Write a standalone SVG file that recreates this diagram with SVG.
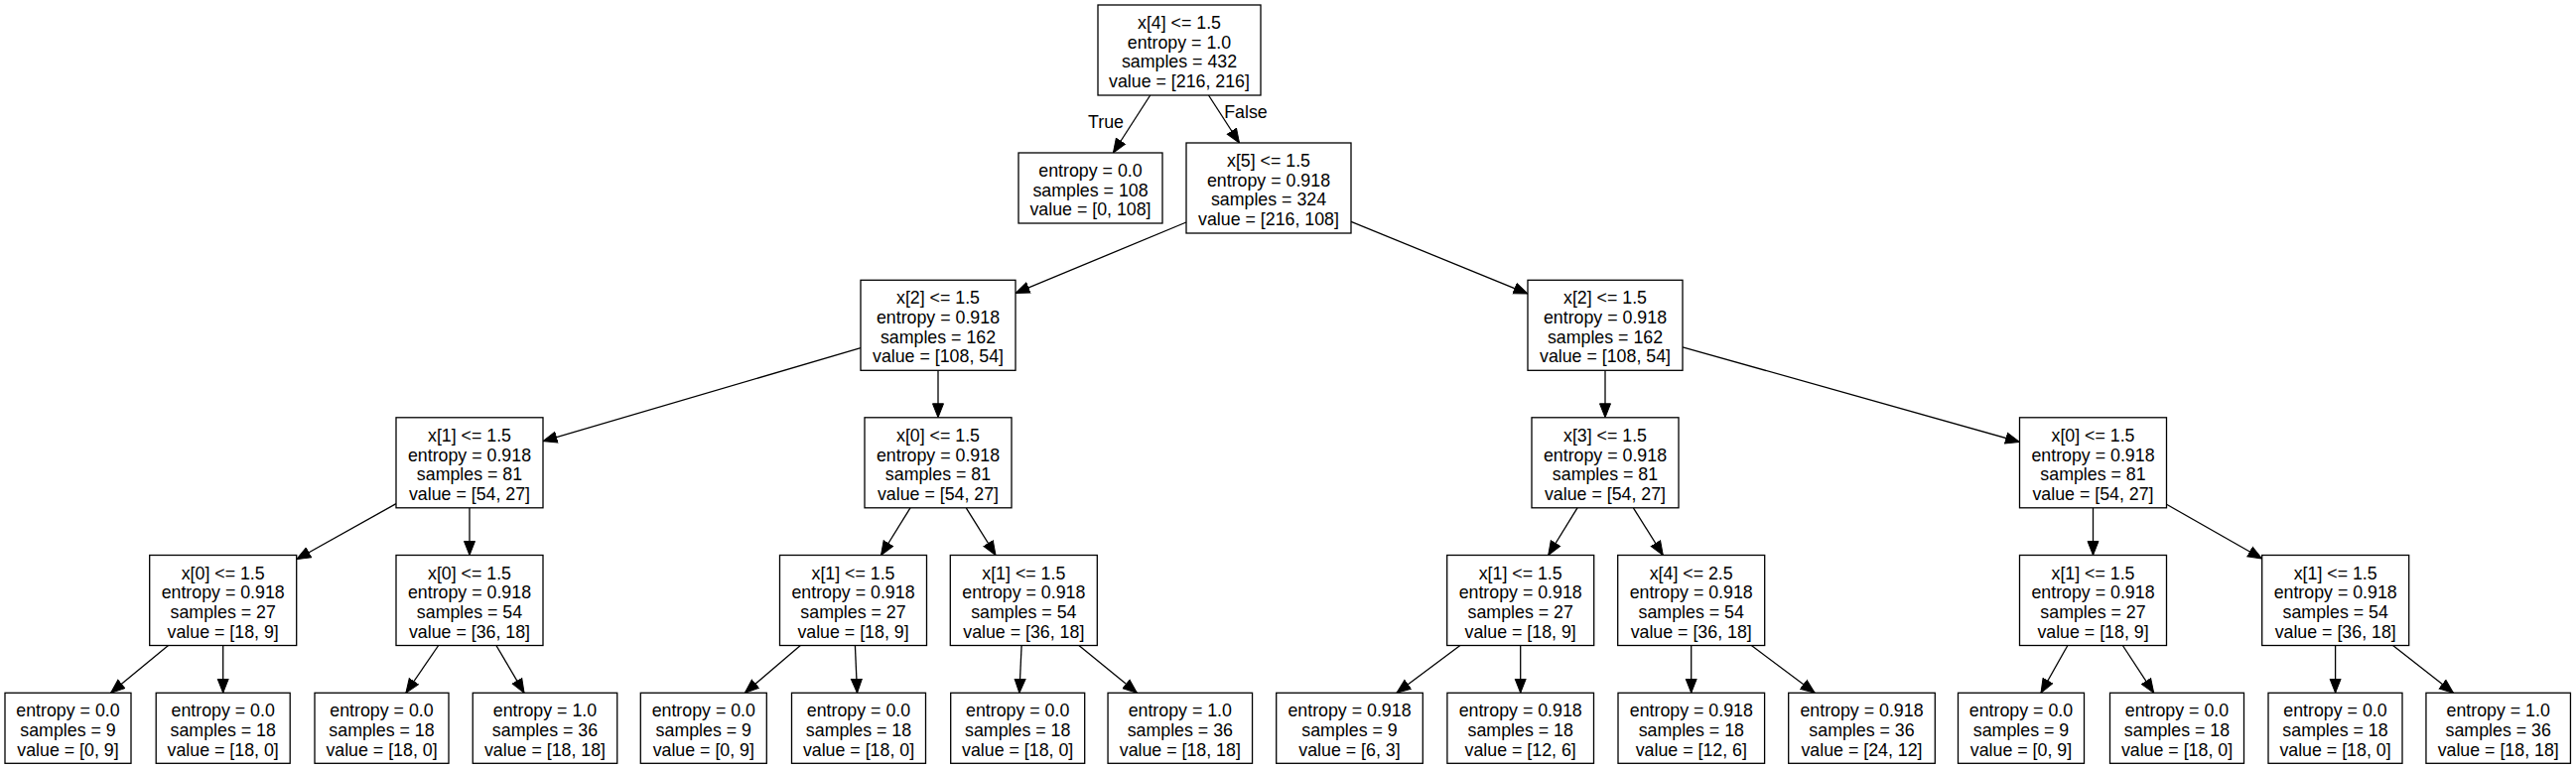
<svg xmlns="http://www.w3.org/2000/svg" width="2595" height="775" viewBox="0 0 2595 775">
<style>
rect.n{fill:#fff;stroke:#000;stroke-width:1.3}
text{font-family:"Liberation Sans",Arial,Helvetica,sans-serif;font-size:17.8px;fill:#000;text-anchor:middle}
.e line{stroke:#000;stroke-width:1.3;marker-end:url(#ah)}
</style>
<defs>
<marker id="ah" markerUnits="userSpaceOnUse" markerWidth="16" markerHeight="14" viewBox="0 -7 15 14" refX="14" refY="0" orient="auto">
<path d="M0,-5.5 L14,0 L0,5.5 z" fill="#000" stroke="#000" stroke-width="1"/>
</marker>
</defs>
<rect width="2595" height="775" fill="#fff"/>
<g class="e" id="edges">
<line x1="1158.7" y1="96" x2="1121.4" y2="154"/>
<line x1="1217.5" y1="96" x2="1248.5" y2="144"/>
<line x1="1195" y1="224" x2="1023" y2="295.4"/>
<line x1="1361" y1="223.4" x2="1539" y2="296"/>
<line x1="867" y1="350.7" x2="547" y2="444.6"/>
<line x1="945" y1="373.3" x2="945" y2="420.8"/>
<line x1="1617" y1="373.3" x2="1617" y2="420.8"/>
<line x1="1695" y1="349.8" x2="2034.5" y2="445.4"/>
<line x1="399" y1="507.6" x2="298.7" y2="563.7"/>
<line x1="473" y1="511.8" x2="473" y2="559.5"/>
<line x1="917" y1="511.8" x2="887.5" y2="559.5"/>
<line x1="973.3" y1="511.8" x2="1003" y2="559.5"/>
<line x1="1589" y1="511.8" x2="1559.7" y2="559.5"/>
<line x1="1645.4" y1="511.8" x2="1675.3" y2="559.5"/>
<line x1="2108.5" y1="511.8" x2="2108.5" y2="559.5"/>
<line x1="2182.5" y1="508.3" x2="2278.7" y2="563"/>
<line x1="169.5" y1="650.5" x2="111.55" y2="698.3"/>
<line x1="224.7" y1="650.5" x2="224.7" y2="698.3"/>
<line x1="441.7" y1="650.5" x2="408.9" y2="698.3"/>
<line x1="499.9" y1="650.5" x2="528.05" y2="698.3"/>
<line x1="806.3" y1="650.5" x2="750.3" y2="698.3"/>
<line x1="861.4" y1="650.5" x2="863.5" y2="698.3"/>
<line x1="1029.1" y1="650.5" x2="1026.9" y2="698.3"/>
<line x1="1086.9" y1="650.5" x2="1145.4" y2="698.3"/>
<line x1="1470.9" y1="650.5" x2="1407" y2="698.3"/>
<line x1="1531.7" y1="650.5" x2="1531.7" y2="698.3"/>
<line x1="1703.7" y1="650.5" x2="1703.7" y2="698.3"/>
<line x1="1764.4" y1="650.5" x2="1828.15" y2="698.3"/>
<line x1="2082.9" y1="650.5" x2="2056" y2="698.3"/>
<line x1="2138.35" y1="650.5" x2="2169.7" y2="698.3"/>
<line x1="2352.6" y1="650.5" x2="2352.6" y2="698.3"/>
<line x1="2410.6" y1="650.5" x2="2471.5" y2="698.3"/>
<text x="1114" y="129">True</text>
<text x="1255" y="119">False</text>
</g>
<g id="n0"><rect class="n" x="1106" y="5" width="164" height="91"/><text x="1188" y="29.05"><tspan x="1188">x[4] &lt;= 1.5</tspan><tspan x="1188" dy="19.7">entropy = 1.0</tspan><tspan x="1188" dy="19.7">samples = 432</tspan><tspan x="1188" dy="19.7">value = [216, 216]</tspan></text></g>
<g id="n1"><rect class="n" x="1026" y="154" width="145" height="71"/><text x="1098.5" y="177.9"><tspan x="1098.5">entropy = 0.0</tspan><tspan x="1098.5" dy="19.7">samples = 108</tspan><tspan x="1098.5" dy="19.7">value = [0, 108]</tspan></text></g>
<g id="n2"><rect class="n" x="1195" y="144" width="166" height="91"/><text x="1278" y="168.05"><tspan x="1278">x[5] &lt;= 1.5</tspan><tspan x="1278" dy="19.7">entropy = 0.918</tspan><tspan x="1278" dy="19.7">samples = 324</tspan><tspan x="1278" dy="19.7">value = [216, 108]</tspan></text></g>
<g id="n3"><rect class="n" x="867" y="282.3" width="156" height="91"/><text x="945" y="306.35"><tspan x="945">x[2] &lt;= 1.5</tspan><tspan x="945" dy="19.7">entropy = 0.918</tspan><tspan x="945" dy="19.7">samples = 162</tspan><tspan x="945" dy="19.7">value = [108, 54]</tspan></text></g>
<g id="n4"><rect class="n" x="1539" y="282.3" width="156" height="91"/><text x="1617" y="306.35"><tspan x="1617">x[2] &lt;= 1.5</tspan><tspan x="1617" dy="19.7">entropy = 0.918</tspan><tspan x="1617" dy="19.7">samples = 162</tspan><tspan x="1617" dy="19.7">value = [108, 54]</tspan></text></g>
<g id="n5"><rect class="n" x="399" y="420.8" width="148" height="91"/><text x="473" y="444.85"><tspan x="473">x[1] &lt;= 1.5</tspan><tspan x="473" dy="19.7">entropy = 0.918</tspan><tspan x="473" dy="19.7">samples = 81</tspan><tspan x="473" dy="19.7">value = [54, 27]</tspan></text></g>
<g id="n6"><rect class="n" x="871" y="420.8" width="148" height="91"/><text x="945" y="444.85"><tspan x="945">x[0] &lt;= 1.5</tspan><tspan x="945" dy="19.7">entropy = 0.918</tspan><tspan x="945" dy="19.7">samples = 81</tspan><tspan x="945" dy="19.7">value = [54, 27]</tspan></text></g>
<g id="n7"><rect class="n" x="1543" y="420.8" width="148" height="91"/><text x="1617" y="444.85"><tspan x="1617">x[3] &lt;= 1.5</tspan><tspan x="1617" dy="19.7">entropy = 0.918</tspan><tspan x="1617" dy="19.7">samples = 81</tspan><tspan x="1617" dy="19.7">value = [54, 27]</tspan></text></g>
<g id="n8"><rect class="n" x="2034.5" y="420.8" width="148" height="91"/><text x="2108.5" y="444.85"><tspan x="2108.5">x[0] &lt;= 1.5</tspan><tspan x="2108.5" dy="19.7">entropy = 0.918</tspan><tspan x="2108.5" dy="19.7">samples = 81</tspan><tspan x="2108.5" dy="19.7">value = [54, 27]</tspan></text></g>
<g id="n9"><rect class="n" x="150.7" y="559.5" width="148" height="91"/><text x="224.7" y="583.55"><tspan x="224.7">x[0] &lt;= 1.5</tspan><tspan x="224.7" dy="19.7">entropy = 0.918</tspan><tspan x="224.7" dy="19.7">samples = 27</tspan><tspan x="224.7" dy="19.7">value = [18, 9]</tspan></text></g>
<g id="n10"><rect class="n" x="399" y="559.5" width="148" height="91"/><text x="473" y="583.55"><tspan x="473">x[0] &lt;= 1.5</tspan><tspan x="473" dy="19.7">entropy = 0.918</tspan><tspan x="473" dy="19.7">samples = 54</tspan><tspan x="473" dy="19.7">value = [36, 18]</tspan></text></g>
<g id="n11"><rect class="n" x="785.5" y="559.5" width="148" height="91"/><text x="859.5" y="583.55"><tspan x="859.5">x[1] &lt;= 1.5</tspan><tspan x="859.5" dy="19.7">entropy = 0.918</tspan><tspan x="859.5" dy="19.7">samples = 27</tspan><tspan x="859.5" dy="19.7">value = [18, 9]</tspan></text></g>
<g id="n12"><rect class="n" x="957.3" y="559.5" width="148" height="91"/><text x="1031.3" y="583.55"><tspan x="1031.3">x[1] &lt;= 1.5</tspan><tspan x="1031.3" dy="19.7">entropy = 0.918</tspan><tspan x="1031.3" dy="19.7">samples = 54</tspan><tspan x="1031.3" dy="19.7">value = [36, 18]</tspan></text></g>
<g id="n13"><rect class="n" x="1457.7" y="559.5" width="148" height="91"/><text x="1531.7" y="583.55"><tspan x="1531.7">x[1] &lt;= 1.5</tspan><tspan x="1531.7" dy="19.7">entropy = 0.918</tspan><tspan x="1531.7" dy="19.7">samples = 27</tspan><tspan x="1531.7" dy="19.7">value = [18, 9]</tspan></text></g>
<g id="n14"><rect class="n" x="1629.7" y="559.5" width="148" height="91"/><text x="1703.7" y="583.55"><tspan x="1703.7">x[4] &lt;= 2.5</tspan><tspan x="1703.7" dy="19.7">entropy = 0.918</tspan><tspan x="1703.7" dy="19.7">samples = 54</tspan><tspan x="1703.7" dy="19.7">value = [36, 18]</tspan></text></g>
<g id="n15"><rect class="n" x="2034.5" y="559.5" width="148" height="91"/><text x="2108.5" y="583.55"><tspan x="2108.5">x[1] &lt;= 1.5</tspan><tspan x="2108.5" dy="19.7">entropy = 0.918</tspan><tspan x="2108.5" dy="19.7">samples = 27</tspan><tspan x="2108.5" dy="19.7">value = [18, 9]</tspan></text></g>
<g id="n16"><rect class="n" x="2278.7" y="559.5" width="148" height="91"/><text x="2352.7" y="583.55"><tspan x="2352.7">x[1] &lt;= 1.5</tspan><tspan x="2352.7" dy="19.7">entropy = 0.918</tspan><tspan x="2352.7" dy="19.7">samples = 54</tspan><tspan x="2352.7" dy="19.7">value = [36, 18]</tspan></text></g>
<g id="l1"><rect class="n" x="5" y="698.3" width="127" height="71"/><text x="68.5" y="722.2"><tspan x="68.5">entropy = 0.0</tspan><tspan x="68.5" dy="19.7">samples = 9</tspan><tspan x="68.5" dy="19.7">value = [0, 9]</tspan></text></g>
<g id="l2"><rect class="n" x="157.2" y="698.3" width="135" height="71"/><text x="224.7" y="722.2"><tspan x="224.7">entropy = 0.0</tspan><tspan x="224.7" dy="19.7">samples = 18</tspan><tspan x="224.7" dy="19.7">value = [18, 0]</tspan></text></g>
<g id="l3"><rect class="n" x="317" y="698.3" width="135" height="71"/><text x="384.5" y="722.2"><tspan x="384.5">entropy = 0.0</tspan><tspan x="384.5" dy="19.7">samples = 18</tspan><tspan x="384.5" dy="19.7">value = [18, 0]</tspan></text></g>
<g id="l4"><rect class="n" x="476.25" y="698.3" width="145.5" height="71"/><text x="549" y="722.2"><tspan x="549">entropy = 1.0</tspan><tspan x="549" dy="19.7">samples = 36</tspan><tspan x="549" dy="19.7">value = [18, 18]</tspan></text></g>
<g id="l5"><rect class="n" x="645.3" y="698.3" width="127" height="71"/><text x="708.8" y="722.2"><tspan x="708.8">entropy = 0.0</tspan><tspan x="708.8" dy="19.7">samples = 9</tspan><tspan x="708.8" dy="19.7">value = [0, 9]</tspan></text></g>
<g id="l6"><rect class="n" x="797.5" y="698.3" width="135" height="71"/><text x="865" y="722.2"><tspan x="865">entropy = 0.0</tspan><tspan x="865" dy="19.7">samples = 18</tspan><tspan x="865" dy="19.7">value = [18, 0]</tspan></text></g>
<g id="l7"><rect class="n" x="957.7" y="698.3" width="135" height="71"/><text x="1025.2" y="722.2"><tspan x="1025.2">entropy = 0.0</tspan><tspan x="1025.2" dy="19.7">samples = 18</tspan><tspan x="1025.2" dy="19.7">value = [18, 0]</tspan></text></g>
<g id="l8"><rect class="n" x="1116.05" y="698.3" width="145.5" height="71"/><text x="1188.8" y="722.2"><tspan x="1188.8">entropy = 1.0</tspan><tspan x="1188.8" dy="19.7">samples = 36</tspan><tspan x="1188.8" dy="19.7">value = [18, 18]</tspan></text></g>
<g id="l9"><rect class="n" x="1285.7" y="698.3" width="147.6" height="71"/><text x="1359.5" y="722.2"><tspan x="1359.5">entropy = 0.918</tspan><tspan x="1359.5" dy="19.7">samples = 9</tspan><tspan x="1359.5" dy="19.7">value = [6, 3]</tspan></text></g>
<g id="l10"><rect class="n" x="1457.9" y="698.3" width="147.6" height="71"/><text x="1531.7" y="722.2"><tspan x="1531.7">entropy = 0.918</tspan><tspan x="1531.7" dy="19.7">samples = 18</tspan><tspan x="1531.7" dy="19.7">value = [12, 6]</tspan></text></g>
<g id="l11"><rect class="n" x="1630" y="698.3" width="147.6" height="71"/><text x="1703.8" y="722.2"><tspan x="1703.8">entropy = 0.918</tspan><tspan x="1703.8" dy="19.7">samples = 18</tspan><tspan x="1703.8" dy="19.7">value = [12, 6]</tspan></text></g>
<g id="l12"><rect class="n" x="1801.7" y="698.3" width="147.6" height="71"/><text x="1875.5" y="722.2"><tspan x="1875.5">entropy = 0.918</tspan><tspan x="1875.5" dy="19.7">samples = 36</tspan><tspan x="1875.5" dy="19.7">value = [24, 12]</tspan></text></g>
<g id="l13"><rect class="n" x="1972.5" y="698.3" width="127" height="71"/><text x="2036" y="722.2"><tspan x="2036">entropy = 0.0</tspan><tspan x="2036" dy="19.7">samples = 9</tspan><tspan x="2036" dy="19.7">value = [0, 9]</tspan></text></g>
<g id="l14"><rect class="n" x="2125.5" y="698.3" width="135" height="71"/><text x="2193" y="722.2"><tspan x="2193">entropy = 0.0</tspan><tspan x="2193" dy="19.7">samples = 18</tspan><tspan x="2193" dy="19.7">value = [18, 0]</tspan></text></g>
<g id="l15"><rect class="n" x="2285" y="698.3" width="135" height="71"/><text x="2352.5" y="722.2"><tspan x="2352.5">entropy = 0.0</tspan><tspan x="2352.5" dy="19.7">samples = 18</tspan><tspan x="2352.5" dy="19.7">value = [18, 0]</tspan></text></g>
<g id="l16"><rect class="n" x="2443.95" y="698.3" width="145.5" height="71"/><text x="2516.7" y="722.2"><tspan x="2516.7">entropy = 1.0</tspan><tspan x="2516.7" dy="19.7">samples = 36</tspan><tspan x="2516.7" dy="19.7">value = [18, 18]</tspan></text></g>
</svg>
